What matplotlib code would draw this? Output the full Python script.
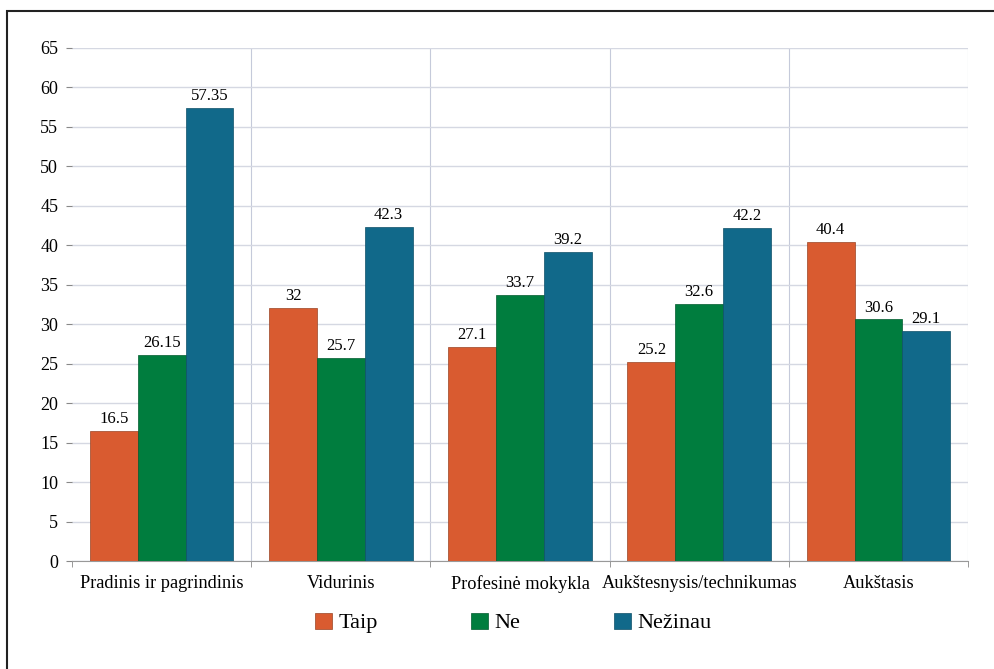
import numpy as np
import matplotlib.pyplot as plt
from matplotlib.patches import Rectangle

plt.rcParams['font.family'] = ['Liberation Serif', 'DejaVu Serif']

categories = ['Pradinis ir pagrindinis', 'Vidurinis', 'Profesinė mokykla',
              'Aukštesnysis/technikumas', 'Aukštasis']
series_names = ['Taip', 'Ne', 'Nežinau']
taip = [16.5, 32, 27.1, 25.2, 40.4]
ne = [26.15, 25.7, 33.7, 32.6, 30.6]
nezinau = [57.35, 42.3, 39.2, 42.2, 29.1]
label_text = [
    ['16.5', '32', '27.1', '25.2', '40.4'],
    ['26.15', '25.7', '33.7', '32.6', '30.6'],
    ['57.35', '42.3', '39.2', '42.2', '29.1'],
]

colors = ['#D95B30', '#007D3E', '#11698A']
edges = ['#9A4424', '#005A2D', '#0D4F68']

fig = plt.figure(figsize=(9.95, 6.69), dpi=100)
ax = fig.add_axes([0.0724, 0.1614, 0.9005, 0.7669])

x = np.arange(len(categories))
w = 0.267
for i, vals in enumerate([taip, ne, nezinau]):
    pos = x + (i - 1) * w
    ax.bar(pos, vals, w, color=colors[i], edgecolor=edges[i], linewidth=0.5,
           label=series_names[i], zorder=3)
    for px, v, t in zip(pos, vals, label_text[i]):
        ax.text(px, v + 0.5, t, ha='center', va='bottom', fontsize=12, zorder=4)

ax.set_xlim(-0.5, len(categories) - 0.5)
ax.set_ylim(0, 65)
ax.set_yticks(range(0, 66, 5))
ax.tick_params(axis='y', labelsize=13, length=4, color='#888888', pad=6)

# category labels in the middle, ticks on boundaries
ax.set_xticks(x)
ax.set_xticklabels(categories, fontsize=13.2)
ax.tick_params(axis='x', length=0, pad=10)
ax.set_xticks(np.arange(-0.5, len(categories)), minor=True)
ax.tick_params(axis='x', which='minor', length=4, color='#888888')

ax.grid(axis='y', color='#D5D8E2', linewidth=1, zorder=0)
for b in np.arange(0.5, len(categories) + 0.5):
    ax.axvline(b, color='#C5CADA', linewidth=0.8, zorder=0)

for s in ['left', 'top', 'right']:
    ax.spines[s].set_visible(False)
ax.spines['bottom'].set_color('#999999')

leg = fig.legend(loc='center', bbox_to_anchor=(0.516, 1 - 623 / 669), ncol=3,
                 frameon=False, fontsize=16, handlelength=0.75, handleheight=0.75,
                 handletextpad=0.3, columnspacing=4.2)

fig.patches.append(Rectangle((7 / 995, -0.1), 1.2, 1.1 - 11 / 669,
                             transform=fig.transFigure, fill=False,
                             edgecolor='#222222', linewidth=1.5))

fig.savefig('out.png', dpi=100)
